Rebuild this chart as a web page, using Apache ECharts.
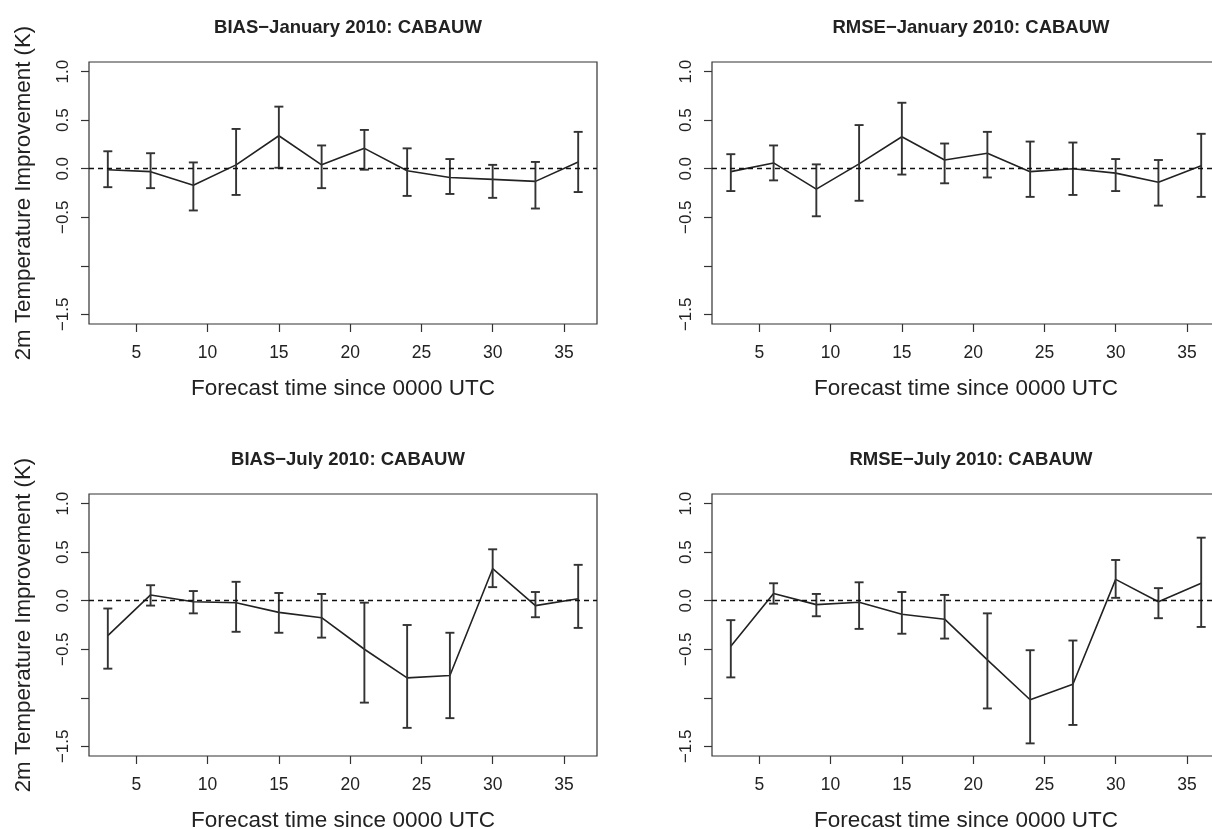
<!DOCTYPE html>
<html>
<head>
<meta charset="utf-8">
<script src="https://cdn.jsdelivr.net/npm/echarts@6/dist/echarts.min.js"></script>
<style>
html,body{margin:0;padding:0;background:#fff;}
#chart{width:1212px;height:829px;}
</style>
</head>
<body>
<div id="chart"></div>
<script>
// ---- data ----
const hours = [3, 6, 9, 12, 15, 18, 21, 24, 27, 30, 33, 36];

const biasJanMean = [-0.01, -0.03, -0.17, 0.04, 0.34, 0.04, 0.21, -0.02, -0.09, -0.11, -0.13, 0.07];
const biasJanLow  = [-0.19, -0.20, -0.43, -0.27, 0.01, -0.20, -0.01, -0.28, -0.26, -0.30, -0.41, -0.24];
const biasJanHigh = [0.18, 0.16, 0.065, 0.41, 0.64, 0.24, 0.40, 0.21, 0.10, 0.04, 0.07, 0.38];

const rmseJanMean = [-0.03, 0.06, -0.21, 0.05, 0.33, 0.09, 0.16, -0.03, 0.0, -0.045, -0.14, 0.03];
const rmseJanLow  = [-0.23, -0.12, -0.49, -0.33, -0.06, -0.15, -0.09, -0.29, -0.27, -0.23, -0.38, -0.29];
const rmseJanHigh = [0.15, 0.24, 0.045, 0.45, 0.68, 0.26, 0.38, 0.28, 0.27, 0.10, 0.09, 0.36];

const biasJulMean = [-0.36, 0.06, -0.01, -0.02, -0.12, -0.175, -0.50, -0.795, -0.77, 0.33, -0.05, 0.02];
const biasJulLow  = [-0.70, -0.05, -0.13, -0.32, -0.33, -0.38, -1.05, -1.31, -1.21, 0.14, -0.17, -0.28];
const biasJulHigh = [-0.08, 0.16, 0.10, 0.195, 0.08, 0.07, -0.02, -0.25, -0.33, 0.53, 0.09, 0.37];

const rmseJulMean = [-0.47, 0.075, -0.04, -0.015, -0.14, -0.19, -0.61, -1.02, -0.86, 0.22, -0.01, 0.18];
const rmseJulLow  = [-0.79, -0.03, -0.16, -0.29, -0.34, -0.39, -1.11, -1.47, -1.28, 0.03, -0.18, -0.27];
const rmseJulHigh = [-0.20, 0.18, 0.07, 0.19, 0.09, 0.06, -0.13, -0.51, -0.41, 0.42, 0.13, 0.65];

const panelTitles = ['BIAS\u2212January 2010: CABAUW', 'RMSE\u2212January 2010: CABAUW',
                     'BIAS\u2212July 2010: CABAUW', 'RMSE\u2212July 2010: CABAUW'];
const xTitle = 'Forecast time since 0000 UTC';
const yTitle = '2m Temperature Improvement (K)';
const xTickValues = [5, 10, 15, 20, 25, 30, 35];
const yTickValues = [-1.5, -1.0, -0.5, 0.0, 0.5, 1.0];
const yLabelValues = [-1.5, -0.5, 0.0, 0.5, 1.0];

// ---- layout ----
const FONT = '"Liberation Sans", Arial, Helvetica, sans-serif';
const TXT = '#222';
const panels = [
  {mean: biasJanMean, low: biasJanLow, high: biasJanHigh, left: 89,  top: 62,  ytitle: true},
  {mean: rmseJanMean, low: rmseJanLow, high: rmseJanHigh, left: 712, top: 62,  ytitle: false},
  {mean: biasJulMean, low: biasJulLow, high: biasJulHigh, left: 89,  top: 494, ytitle: true},
  {mean: rmseJulMean, low: rmseJulLow, high: rmseJulHigh, left: 712, top: 494, ytitle: false}
];
const W = 508, H = 262;

const grid = [], xAxis = [], yAxis = [], series = [], title = [];
panels.forEach((p, i) => {
  grid.push({left: p.left, top: p.top, width: W, height: H, show: true,
             outerBoundsMode: 'none', containLabel: false,
             borderColor: '#333', borderWidth: 1.2, backgroundColor: 'transparent'});
  title.push({text: panelTitles[i], left: p.left + W / 2, top: p.top - 49, textAlign: 'center',
              textStyle: {fontFamily: FONT, fontSize: 18.5, fontWeight: 'bold', color: TXT}});
  xAxis.push({
    type: 'value', gridIndex: i, min: 1.68, max: 37.32, position: 'bottom',
    axisLine: {show: false, onZero: false},
    splitLine: {show: false},
    axisTick: {show: true, length: 8, inside: false, customValues: xTickValues,
               lineStyle: {color: '#333', width: 1.2}},
    axisLabel: {show: true, customValues: xTickValues, margin: 20,
                fontFamily: FONT, fontSize: 17.5, color: TXT},
    name: xTitle, nameLocation: 'middle', nameGap: 53,
    nameTextStyle: {fontFamily: FONT, fontSize: 22.5, color: TXT}
  });
  yAxis.push({
    type: 'value', gridIndex: i, min: -1.6, max: 1.1, position: 'left',
    axisLine: {show: false, onZero: false},
    splitLine: {show: false},
    axisTick: {show: true, length: 8, inside: false, customValues: yTickValues,
               lineStyle: {color: '#333', width: 1.2}},
    axisLabel: {show: true, customValues: yLabelValues, rotate: 90, margin: 17,
                fontFamily: FONT, fontSize: 17, color: TXT,
                formatter: v => v.toFixed(1).replace('-', '\u2212')},
    name: p.ytitle ? yTitle : '', nameLocation: 'middle', nameGap: 54, nameRotate: 90,
    nameTextStyle: {fontFamily: FONT, fontSize: 22.3, color: TXT}
  });
  series.push({
    type: 'line', xAxisIndex: i, yAxisIndex: i,
    data: hours.map((h, k) => [h, p.mean[k]]),
    showSymbol: false, symbol: 'none',
    lineStyle: {color: '#222', width: 1.6},
    silent: true, animation: false, z: 3,
    markLine: {
      silent: true, symbol: 'none', animation: false,
      label: {show: false},
      lineStyle: {color: '#111', type: [5, 4], width: 1.3},
      data: [{yAxis: 0}]
    }
  });
  series.push({
    type: 'custom', xAxisIndex: i, yAxisIndex: i,
    data: hours.map((h, k) => [h, p.low[k], p.high[k]]),
    animation: false, silent: true, z: 4,
    renderItem: function (params, api) {
      const lo = api.coord([api.value(0), api.value(1)]);
      const hi = api.coord([api.value(0), api.value(2)]);
      const cw = 4.5;
      const st = {stroke: '#333', lineWidth: 1.9};
      return {type: 'group', children: [
        {type: 'line', shape: {x1: lo[0], y1: lo[1], x2: hi[0], y2: hi[1]}, style: st},
        {type: 'line', shape: {x1: lo[0] - cw, y1: lo[1], x2: lo[0] + cw, y2: lo[1]}, style: st},
        {type: 'line', shape: {x1: hi[0] - cw, y1: hi[1], x2: hi[0] + cw, y2: hi[1]}, style: st}
      ]};
    }
  });
});

const chart = echarts.init(document.getElementById('chart'), null, {renderer: 'canvas'});
chart.setOption({backgroundColor: '#fff', animation: false, title, grid, xAxis, yAxis, series});
</script>
</body>
</html>
